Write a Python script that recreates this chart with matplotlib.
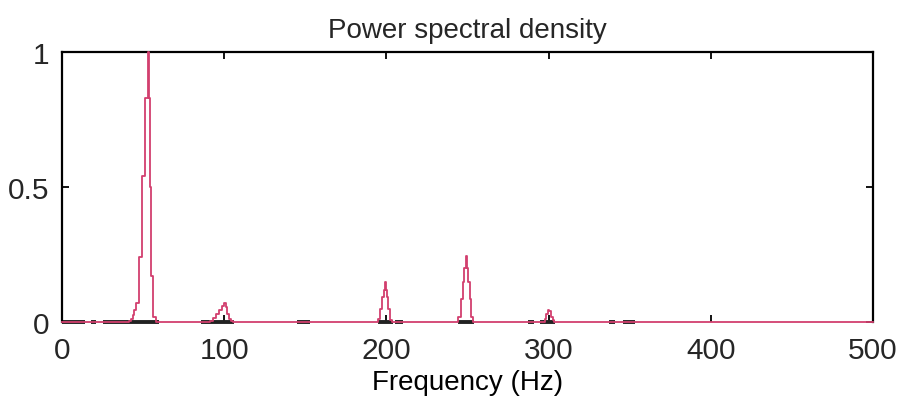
#!/usr/bin/env python3
import matplotlib
matplotlib.use("Agg")
import matplotlib.pyplot as plt

# PSD curve (Hz, normalised power), drawn as stairs
freq = [0, 40, 42, 43, 44, 45, 46.4, 48.45, 50.3, 52.2, 53.3, 53.85, 54.5, 55.2, 57, 59,
        90, 92, 94, 96, 98, 99.5, 100.7, 101.5, 102.5, 103.5, 105, 106,
        194, 195.8, 196.9, 197.8, 198.8, 199.7, 200.3, 200.9, 201.5, 203, 204.5,
        243.5, 245.1, 246.4, 247.6, 248.6, 249.5, 250.2, 250.9, 251.9, 252.6, 253.6,
        297, 298, 299, 300, 301, 302, 303, 304, 500]
psd = [0, 0, 0.005, 0.012, 0.025, 0.045, 0.07, 0.24, 0.54, 0.83, 1.0, 0.83, 0.5, 0.17, 0.02, 0,
       0, 0.005, 0.015, 0.03, 0.045, 0.06, 0.07, 0.055, 0.03, 0.01, 0.003, 0,
       0, 0.01, 0.048, 0.093, 0.12, 0.148, 0.12, 0.093, 0.048, 0.008, 0,
       0, 0.02, 0.085, 0.15, 0.2, 0.245, 0.2, 0.15, 0.085, 0.02, 0,
       0, 0.01, 0.03, 0.045, 0.04, 0.02, 0.008, 0, 0]

# dark fragments visible along the baseline (Hz ranges)
seg_start = [0, 18, 25, 40, 86, 92, 145, 195, 205, 244, 287, 295, 337, 346]
seg_end = [14, 21, 40, 60, 92, 106, 153, 204, 210, 254, 291, 304, 341, 353]

plt.rcParams['font.family'] = ['Liberation Sans', 'DejaVu Sans']
plt.rcParams['text.color'] = '#262626'
plt.rcParams['xtick.labelcolor'] = '#262626'
plt.rcParams['ytick.labelcolor'] = '#262626'

fig = plt.figure(figsize=(8.99, 4.06), dpi=100)
ax = fig.add_axes([62/899, 1-323/406, (873-62)/899, (323-53)/406])

ax.hlines([0]*len(seg_start), seg_start, seg_end, color='#222222', lw=2.8,
          zorder=2, clip_on=False)
ax.plot(freq, psd, drawstyle='steps-mid', color='#d23f6e', lw=1.3, zorder=3,
        clip_on=False)

ax.set_xlim(0, 500)
ax.set_ylim(0, 1)
ax.set_xticks([0, 100, 200, 300, 400, 500])
ax.set_yticks([0, 0.5, 1])
ax.set_yticklabels(['0', '0.5', '1'])
ax.tick_params(direction='in', length=5, width=1.3, labelsize=21.5,
               top=True, right=True, pad=9)
ax.tick_params(axis='x', pad=10)
for side in ['top', 'left', 'right']:
    ax.spines[side].set_linewidth(1.6)
ax.spines['bottom'].set_visible(False)

ax.set_title("Power spectral density", fontsize=20, pad=11)
ax.set_xlabel("Frequency (Hz)", fontsize=20, labelpad=4)

fig.savefig("out.png", dpi=100)
